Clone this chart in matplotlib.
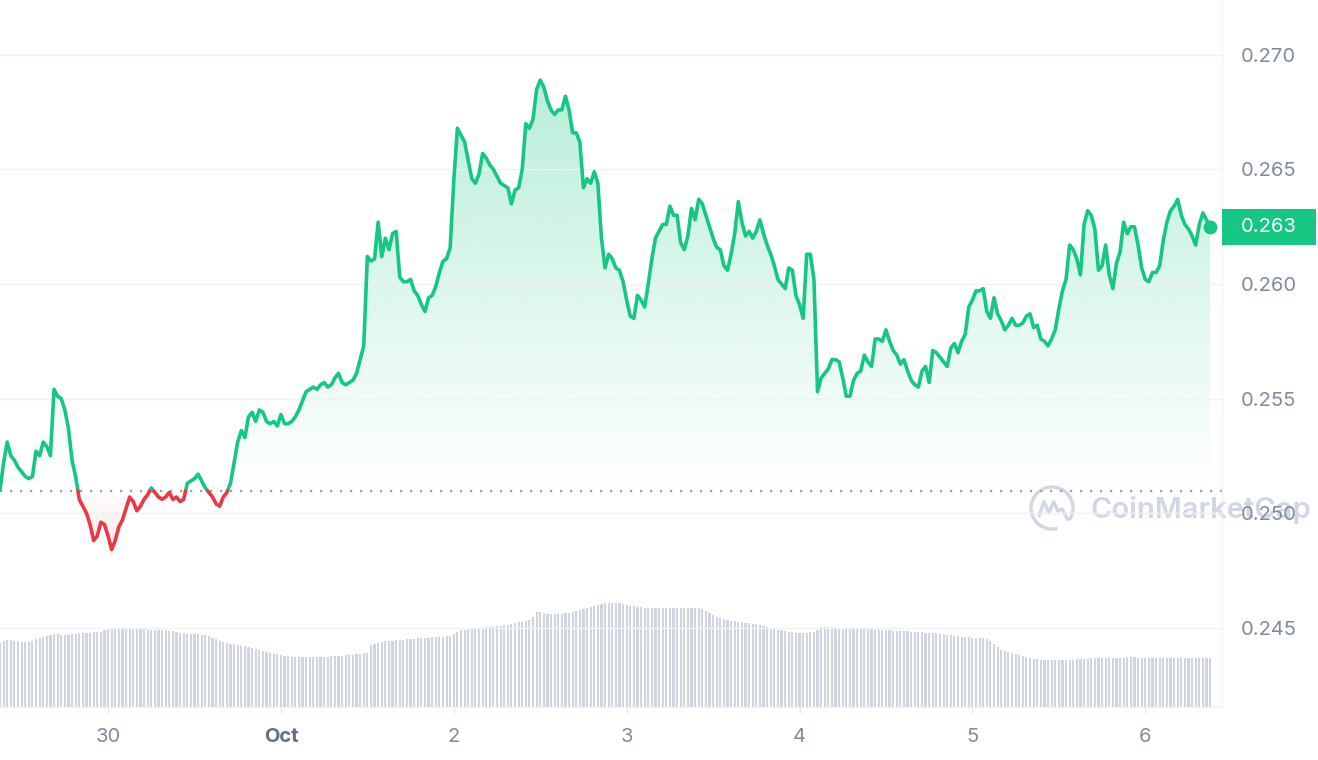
import numpy as np
import matplotlib
matplotlib.use("Agg")
import matplotlib.pyplot as plt
import matplotlib.dates as mdates
from matplotlib.colors import to_rgb
from matplotlib.patches import Rectangle, Arc, PathPatch
from matplotlib.path import Path
from matplotlib.transforms import blended_transform_factory
from datetime import datetime, timedelta

plt.rcParams['font.family'] = ['Inter', 'DejaVu Sans']

# 7 day chart, one point every 30 minutes
start = datetime(2023, 9, 29, 9, 0)
step_minutes = 30
open_price = 0.25096

price = [
    0.2510, 0.2522, 0.2531, 0.2525, 0.2523, 0.2520, 0.2518, 0.2516, 0.2515, 0.2516,
    0.2527, 0.2525, 0.2531, 0.2529, 0.2525, 0.2554, 0.2551, 0.2550, 0.2545, 0.2537,
    0.2523, 0.2516, 0.2506, 0.2503, 0.2500, 0.2495, 0.2488, 0.2490, 0.2496, 0.2495,
    0.2490, 0.2484, 0.2488, 0.2494, 0.2497, 0.2502, 0.2507, 0.2505, 0.2501, 0.2503,
    0.2506, 0.2508, 0.2511, 0.2509, 0.2507, 0.2506, 0.2507, 0.2509, 0.2506, 0.2507,
    0.2505, 0.2506, 0.2513, 0.2514, 0.2515, 0.2517, 0.2514, 0.2511, 0.2509, 0.2507,
    0.2504, 0.2503, 0.2507, 0.2509, 0.2513, 0.2522, 0.2531, 0.2536, 0.2533, 0.2542,
    0.2544, 0.2540, 0.2545, 0.2544, 0.2540, 0.2539, 0.2540, 0.2538, 0.2543, 0.2539,
    0.2539, 0.2540, 0.2542, 0.2545, 0.2549, 0.2553, 0.2554, 0.2555, 0.2554, 0.2556,
    0.2557, 0.2555, 0.2556, 0.2559, 0.2561, 0.2557, 0.2556, 0.2557, 0.2558, 0.2561,
    0.2567, 0.2573, 0.2612, 0.2610, 0.2611, 0.2627, 0.2612, 0.2620, 0.2615, 0.2622,
    0.2623, 0.2603, 0.2601, 0.2601, 0.2602, 0.2597, 0.2595, 0.2591, 0.2588, 0.2594,
    0.2595, 0.2599, 0.2605, 0.2610, 0.2611, 0.2616, 0.2645, 0.2668, 0.2665, 0.2662,
    0.2654, 0.2646, 0.2644, 0.2648, 0.2657, 0.2655, 0.2652, 0.2650, 0.2647, 0.2644,
    0.2643, 0.2642, 0.2635, 0.2641, 0.2642, 0.2650, 0.2670, 0.2668, 0.2672, 0.2685,
    0.2689, 0.2686, 0.2680, 0.2676, 0.2674, 0.2676, 0.2676, 0.2682, 0.2676, 0.2666,
    0.2666, 0.2662, 0.2642, 0.2646, 0.2644, 0.2649, 0.2644, 0.2620, 0.2607, 0.2613,
    0.2611, 0.2607, 0.2606, 0.2601, 0.2593, 0.2586, 0.2585, 0.2595, 0.2593, 0.2590,
    0.2600, 0.2611, 0.2620, 0.2623, 0.2626, 0.2626, 0.2634, 0.2630, 0.2630, 0.2618,
    0.2615, 0.2621, 0.2633, 0.2628, 0.2637, 0.2635, 0.2630, 0.2625, 0.2620, 0.2616,
    0.2615, 0.2608, 0.2606, 0.2613, 0.2622, 0.2636, 0.2627, 0.2621, 0.2623, 0.2620,
    0.2623, 0.2628, 0.2622, 0.2617, 0.2613, 0.2608, 0.2602, 0.2600, 0.2598, 0.2607,
    0.2606, 0.2595, 0.2591, 0.2585, 0.2613, 0.2613, 0.2602, 0.2553, 0.2559, 0.2561,
    0.2563, 0.2567, 0.2567, 0.2566, 0.2559, 0.2551, 0.2551, 0.2558, 0.2561, 0.2562,
    0.2569, 0.2566, 0.2564, 0.2576, 0.2576, 0.2575, 0.2580, 0.2575, 0.2571, 0.2569,
    0.2565, 0.2567, 0.2562, 0.2558, 0.2556, 0.2555, 0.2562, 0.2564, 0.2557, 0.2571,
    0.2570, 0.2568, 0.2566, 0.2564, 0.2572, 0.2574, 0.2570, 0.2575, 0.2578, 0.2590,
    0.2593, 0.2597, 0.2597, 0.2598, 0.2588, 0.2585, 0.2594, 0.2587, 0.2584, 0.2580,
    0.2582, 0.2585, 0.2582, 0.2582, 0.2583, 0.2586, 0.2587, 0.2581, 0.2582, 0.2576,
    0.2575, 0.2573, 0.2576, 0.2580, 0.2589, 0.2597, 0.2602, 0.2617, 0.2615, 0.2611,
    0.2604, 0.2626, 0.2632, 0.2630, 0.2624, 0.2606, 0.2608, 0.2617, 0.2604, 0.2598,
    0.2609, 0.2614, 0.2627, 0.2622, 0.2625, 0.2625, 0.2617, 0.2607, 0.2602, 0.2601,
    0.2605, 0.2605, 0.2608, 0.2619, 0.2627, 0.2632, 0.2634, 0.2637, 0.2630, 0.2626,
    0.2624, 0.2621, 0.2617, 0.2626, 0.2631, 0.2628, 0.2625,
]

# rolling 24h volume (relative units)
volume = [
    64, 66, 67, 67, 66, 66, 65, 65, 65, 66,
    68, 69, 70, 71, 72, 73, 73, 72, 72, 72,
    73, 73, 74, 74, 74, 74, 75, 75, 75, 77,
    78, 79, 79, 79, 79, 79, 79, 79, 78, 78,
    78, 77, 77, 77, 77, 77, 77, 76, 76, 75,
    74, 74, 73, 73, 73, 73, 72, 72, 71, 69,
    68, 66, 65, 64, 63, 63, 62, 61, 61, 60,
    59, 58, 57, 56, 55, 54, 53, 53, 52, 51,
    51, 50, 50, 50, 50, 50, 50, 50, 50, 50,
    50, 50, 51, 51, 51, 51, 52, 52, 52, 53,
    53, 54, 54, 62, 63, 64, 65, 66, 66, 66,
    67, 67, 67, 68, 68, 68, 69, 69, 69, 69,
    70, 70, 70, 70, 71, 71, 73, 75, 77, 77,
    78, 78, 79, 79, 79, 80, 80, 80, 81, 81,
    82, 82, 83, 84, 85, 85, 86, 87, 90, 95,
    95, 94, 93, 93, 93, 93, 93, 94, 94, 95,
    96, 97, 98, 99, 100, 101, 102, 103, 104, 104,
    104, 104, 104, 103, 102, 101, 101, 100, 100, 99,
    99, 99, 99, 99, 99, 99, 99, 99, 99, 99,
    99, 99, 99, 99, 99, 98, 96, 94, 92, 90,
    89, 88, 87, 86, 86, 85, 85, 84, 84, 83,
    83, 82, 81, 80, 79, 78, 77, 77, 76, 75,
    75, 74, 74, 74, 74, 75, 75, 77, 80, 80,
    80, 80, 79, 79, 79, 79, 79, 79, 79, 78,
    78, 78, 78, 77, 77, 77, 77, 77, 76, 76,
    76, 76, 76, 75, 75, 75, 75, 74, 74, 74,
    74, 73, 73, 72, 72, 71, 71, 70, 70, 70,
    69, 69, 69, 69, 68, 66, 63, 60, 57, 56,
    55, 54, 53, 52, 51, 50, 49, 48, 48, 47,
    47, 47, 47, 47, 47, 47, 47, 47, 47, 48,
    48, 48, 48, 49, 49, 49, 49, 49, 49, 49,
    49, 49, 49, 50, 50, 50, 49, 49, 49, 49,
    49, 49, 49, 49, 49, 49, 49, 49, 49, 49,
    49, 49, 49, 49, 49, 49, 49,
]

tick_dates = [datetime(2023, 9, 30), datetime(2023, 10, 1), datetime(2023, 10, 2),
              datetime(2023, 10, 3), datetime(2023, 10, 4), datetime(2023, 10, 5),
              datetime(2023, 10, 6)]
tick_labels = ['30', 'Oct', '2', '3', '4', '5', '6']
price_ticks = [0.245, 0.250, 0.255, 0.260, 0.265, 0.270]

green = '#16c784'
red = '#ea3943'
grid_col = '#eff2f5'
label_col = '#808a9d'

times = [start + timedelta(minutes=step_minutes * i) for i in range(len(price))]
t = mdates.date2num(times)
p = np.array(price)

fig = plt.figure(figsize=(13.18, 7.6), dpi=100)
ax = fig.add_axes([0, 0.0697, 0.9272, 0.9303])
ax2 = ax.twinx()
ax.set_zorder(ax2.get_zorder() + 1)
ax.patch.set_visible(False)

# volume bars
bar_w = step_minutes / 1440 * 0.6
ax2.bar(t, volume, width=bar_w, color='#cfd5e0', linewidth=0)
ax2.set_ylim(0, max(volume) * 6.8)
ax2.set_yticks([])
for s in ax2.spines.values():
    s.set_visible(False)

xmin, xmax = t[0], t[-1] + 1.66 / 24
ymin, ymax = 0.24153, 0.27240


def gradient_fill(color, y0, y1, a_bottom, a_top, mask):
    poly = ax.fill_between(t, p, open_price, where=mask, interpolate=True,
                           facecolor='none', edgecolor='none')
    img = np.zeros((256, 1, 4))
    img[:, :, :3] = to_rgb(color)
    img[:, 0, 3] = np.linspace(a_top, a_bottom, 256)
    im = ax.imshow(img, extent=[xmin, xmax, y0, y1], aspect='auto',
                   origin='upper', zorder=1, interpolation='bilinear')
    clip = Path.make_compound_path(*poly.get_paths())
    im.set_clip_path(clip, transform=ax.transData)


gradient_fill(green, open_price, p.max(), 0.0, 0.30, p >= open_price)
gradient_fill(red, p.min(), open_price, 0.12, 0.0, p <= open_price)

# split the line where it crosses the open price
xs, ys = [t[0]], [p[0]]
for i in range(1, len(p)):
    a, b = p[i - 1] - open_price, p[i] - open_price
    if a * b < 0:
        f = a / (a - b)
        xs.append(t[i - 1] + f * (t[i] - t[i - 1]))
        ys.append(open_price)
    xs.append(t[i])
    ys.append(p[i])
xs, ys = np.array(xs), np.array(ys)
up = np.ma.masked_where(ys < open_price, ys)
dn = np.ma.masked_where(ys > open_price, ys)
ax.plot(xs, up, color=green, lw=2.6, solid_joinstyle='round', solid_capstyle='round', zorder=3)
ax.plot(xs, dn, color=red, lw=2.6, solid_joinstyle='round', solid_capstyle='round', zorder=3)

ax.axhline(open_price, color='#9aa1ae', lw=1.6, ls=(0, (1, 3.5)), zorder=2)
ax.plot(t[-1], p[-1], 'o', ms=9, color=green, zorder=4)

ax.set_xlim(xmin, xmax)
ax.set_ylim(ymin, ymax)

# axes styling
for side in ['top', 'left']:
    ax.spines[side].set_visible(False)
ax.spines['bottom'].set_color(grid_col)
ax.spines['right'].set_color(grid_col)
ax.yaxis.tick_right()
ax.set_yticks(price_ticks)
ax.set_yticklabels([f'{v:.3f}' for v in price_ticks])
ax.tick_params(axis='y', length=0, pad=13.5, labelsize=14.5, labelcolor=label_col)
ax.grid(axis='y', color=grid_col, lw=1)
ax.set_xticks(mdates.date2num(tick_dates))
ax.set_xticklabels(tick_labels)
ax.tick_params(axis='x', length=4, width=1, color='#e6e9ee', pad=11,
               labelsize=14.5, labelcolor=label_col)
for lab in ax.get_xticklabels():
    if lab.get_text() == 'Oct':
        lab.set_fontweight('bold')
        lab.set_color('#616e85')

# current price tag
tr = blended_transform_factory(ax.transAxes, ax.transData)
ax.add_patch(Rectangle((1.0, p[-1] - 0.00079), 0.0769, 0.00158, transform=tr,
                       facecolor=green, edgecolor='none', clip_on=False, zorder=5))
ax.text(1.0 + 0.0769 / 2, p[-1], f'{p[-1]:.3f}', transform=tr, ha='center',
        va='center', color='white', fontsize=14.5, clip_on=False, zorder=6)

# watermark
wm_col = '#cbd2df'
ax.text(1090 / 1318, 1 - 510 / 760, 'CoinMarketCap', transform=fig.transFigure,
        ha='left', va='center', fontsize=21, fontweight='semibold', color=wm_col,
        alpha=0.9, zorder=1, clip_on=False)
cx, cy, r = 10.52, 2.52, 0.21
ax.add_patch(Arc((cx, cy), 2 * r, 2 * r, theta1=-35, theta2=285, lw=2.4,
                 color=wm_col, alpha=0.9, transform=fig.dpi_scale_trans,
                 clip_on=False, zorder=1))
zig = [(-0.62, -0.38), (-0.38, 0.30), (-0.15, -0.22), (0.08, 0.30),
       (0.28, -0.15), (0.48, -0.05), (0.75, -0.55)]
zig_path = Path([(cx + r * u, cy + r * v) for u, v in zig])
ax.add_patch(PathPatch(zig_path, fill=False, lw=2.4, edgecolor=wm_col, alpha=0.9,
                       joinstyle='round', capstyle='round',
                       transform=fig.dpi_scale_trans, clip_on=False, zorder=1))

fig.savefig('out.png', dpi=100)
